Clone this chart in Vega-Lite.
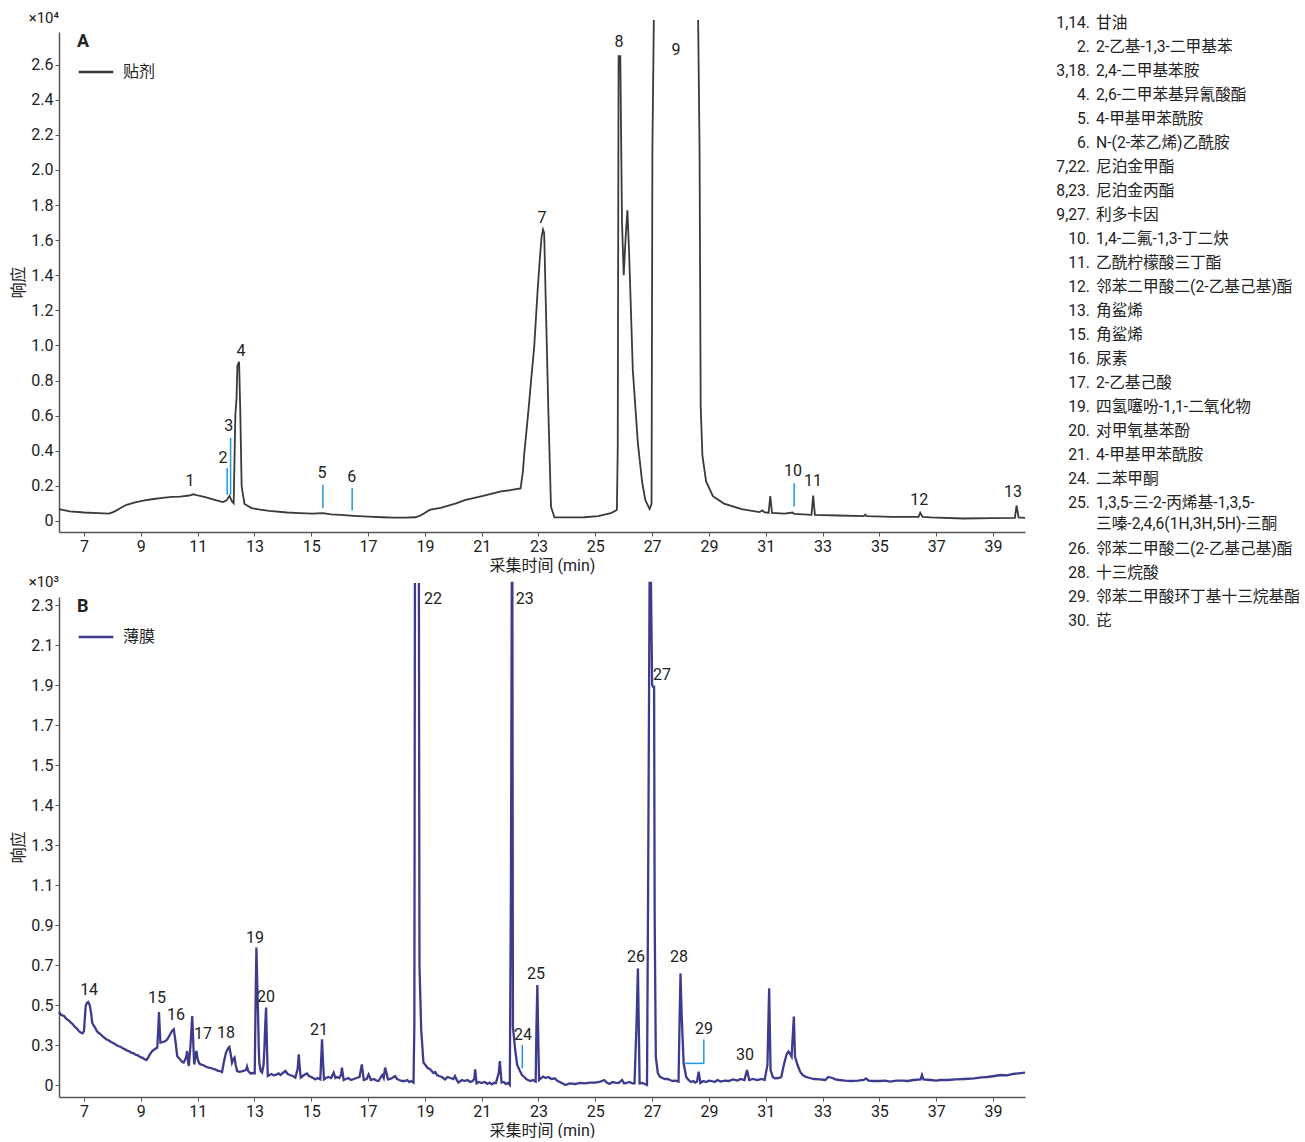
{
"$schema": "https://vega.github.io/schema/vega-lite/v6.json",
"padding": {"left": 10, "top": 11, "right": 0, "bottom": 0},
"background": "white",
"config": {
  "font": "Roboto, Noto Sans CJK SC, sans-serif",
  "view": {"stroke": null},
  "axis": {"grid": false, "domainColor": "#555", "domainWidth": 1.5, "tickColor": "#555", "tickSize": 4, "labelFontSize": 16, "labelColor": "#222", "titleFontSize": 16, "titleFontWeight": "normal", "titleColor": "#222", "labelOverlap": false},
  "legend": {"titleFontSize": 18, "titleFontWeight": "bold", "titleColor": "#222", "labelFontSize": 16, "labelColor": "#222", "symbolType": "stroke", "symbolSize": 1200, "symbolStrokeWidth": 2.5, "orient": "none", "legendX": 18, "legendY": 1, "titlePadding": 2, "labelOffset": 8},
  "title": {"fontSize": 15, "fontWeight": "normal", "color": "#222"}
},
"datasets": {
  "traceA": [
    {"t":6.12,"v":0.067},{"t":6.5,"v":0.055},{"t":7.0,"v":0.048},{"t":7.5,"v":0.044},{"t":7.88,"v":0.042},{"t":8.07,"v":0.053},{"t":8.3,"v":0.075},{"t":8.5,"v":0.092},{"t":8.8,"v":0.106},{"t":9.13,"v":0.117},{"t":9.45,"v":0.125},{"t":9.76,"v":0.132},{"t":10.1,"v":0.137},{"t":10.39,"v":0.139},{"t":10.7,"v":0.145},{"t":10.85,"v":0.152},{"t":11.0,"v":0.145},{"t":11.27,"v":0.136},{"t":11.6,"v":0.12},{"t":11.89,"v":0.107},{"t":12.02,"v":0.117},{"t":12.12,"v":0.143},{"t":12.21,"v":0.111},{"t":12.27,"v":0.101},{"t":12.31,"v":0.45},{"t":12.33,"v":0.607},{"t":12.37,"v":0.7},{"t":12.4,"v":0.884},{"t":12.46,"v":0.907},{"t":12.5,"v":0.636},{"t":12.55,"v":0.197},{"t":12.65,"v":0.097},{"t":12.9,"v":0.073},{"t":13.2,"v":0.064},{"t":13.52,"v":0.057},{"t":14.15,"v":0.048},{"t":14.6,"v":0.045},{"t":15.03,"v":0.042},{"t":15.41,"v":0.045},{"t":15.7,"v":0.038},{"t":16.03,"v":0.034},{"t":16.5,"v":0.029},{"t":17.01,"v":0.025},{"t":17.5,"v":0.021},{"t":17.92,"v":0.019},{"t":18.3,"v":0.019},{"t":18.67,"v":0.021},{"t":18.85,"v":0.032},{"t":18.98,"v":0.044},{"t":19.17,"v":0.063},{"t":19.3,"v":0.067},{"t":19.55,"v":0.075},{"t":19.8,"v":0.086},{"t":20.1,"v":0.1},{"t":20.43,"v":0.12},{"t":20.75,"v":0.132},{"t":21.05,"v":0.143},{"t":21.4,"v":0.157},{"t":21.68,"v":0.168},{"t":22.0,"v":0.175},{"t":22.37,"v":0.185},{"t":22.45,"v":0.28},{"t":22.5,"v":0.386},{"t":22.6,"v":0.55},{"t":22.68,"v":0.69},{"t":22.75,"v":0.82},{"t":22.85,"v":0.993},{"t":22.97,"v":1.316},{"t":23.05,"v":1.5},{"t":23.11,"v":1.62},{"t":23.16,"v":1.66},{"t":23.2,"v":1.64},{"t":23.26,"v":1.22},{"t":23.35,"v":0.61},{"t":23.44,"v":0.081},{"t":23.56,"v":0.021},{"t":24.0,"v":0.02},{"t":24.61,"v":0.021},{"t":25.1,"v":0.028},{"t":25.55,"v":0.044},{"t":25.76,"v":0.063},{"t":25.79,"v":0.42},{"t":25.82,"v":2.648},{"t":25.88,"v":2.648},{"t":25.94,"v":1.7},{"t":26.0,"v":1.4},{"t":26.07,"v":1.62},{"t":26.13,"v":1.77},{"t":26.19,"v":1.53},{"t":26.32,"v":0.86},{"t":26.5,"v":0.44},{"t":26.65,"v":0.22},{"t":26.76,"v":0.12},{"t":26.91,"v":0.068},{"t":26.98,"v":0.097},{"t":27.01,"v":2.12},{"t":27.06,"v":2.855},{"t":27.8,"v":null},{"t":28.62,"v":2.855},{"t":28.67,"v":2.12},{"t":28.71,"v":0.65},{"t":28.77,"v":0.373},{"t":28.9,"v":0.225},{"t":29.14,"v":0.141},{"t":29.53,"v":0.099},{"t":30.15,"v":0.067},{"t":30.78,"v":0.05},{"t":30.88,"v":0.06},{"t":30.95,"v":0.05},{"t":31.1,"v":0.046},{"t":31.16,"v":0.141},{"t":31.22,"v":0.046},{"t":31.66,"v":0.042},{"t":31.94,"v":0.048},{"t":32.0,"v":0.04},{"t":32.61,"v":0.035},{"t":32.67,"v":0.145},{"t":32.73,"v":0.035},{"t":33.55,"v":0.031},{"t":34.45,"v":0.028},{"t":34.5,"v":0.036},{"t":34.55,"v":0.027},{"t":35.44,"v":0.023},{"t":36.38,"v":0.023},{"t":36.44,"v":0.046},{"t":36.52,"v":0.023},{"t":36.8,"v":0.02},{"t":37.95,"v":0.014},{"t":39.0,"v":0.016},{"t":39.77,"v":0.018},{"t":39.83,"v":0.088},{"t":39.9,"v":0.02},{"t":40.13,"v":0.018}
  ],
  "traceB": [
    {"t":6.12,"v":0.365},{"t":6.2,"v":0.35},{"t":6.3,"v":0.345},{"t":6.38,"v":0.33},{"t":6.47,"v":0.322},{"t":6.55,"v":0.31},{"t":6.6,"v":0.305},{"t":6.68,"v":0.29},{"t":6.75,"v":0.282},{"t":6.82,"v":0.27},{"t":6.88,"v":0.262},{"t":6.95,"v":0.258},{"t":7.0,"v":0.27},{"t":7.06,"v":0.395},{"t":7.1,"v":0.41},{"t":7.15,"v":0.415},{"t":7.2,"v":0.4},{"t":7.25,"v":0.36},{"t":7.29,"v":0.31},{"t":7.35,"v":0.295},{"t":7.4,"v":0.285},{"t":7.45,"v":0.27},{"t":7.5,"v":0.262},{"t":7.57,"v":0.255},{"t":7.64,"v":0.245},{"t":7.72,"v":0.236},{"t":7.8,"v":0.228},{"t":7.88,"v":0.222},{"t":7.95,"v":0.215},{"t":8.03,"v":0.21},{"t":8.11,"v":0.203},{"t":8.2,"v":0.195},{"t":8.3,"v":0.19},{"t":8.38,"v":0.182},{"t":8.45,"v":0.178},{"t":8.52,"v":0.172},{"t":8.58,"v":0.17},{"t":8.66,"v":0.162},{"t":8.75,"v":0.158},{"t":8.83,"v":0.15},{"t":8.9,"v":0.148},{"t":8.97,"v":0.14},{"t":9.05,"v":0.137},{"t":9.12,"v":0.13},{"t":9.19,"v":0.125},{"t":9.25,"v":0.135},{"t":9.3,"v":0.15},{"t":9.4,"v":0.17},{"t":9.5,"v":0.18},{"t":9.58,"v":0.187},{"t":9.62,"v":0.3},{"t":9.64,"v":0.365},{"t":9.66,"v":0.3},{"t":9.69,"v":0.212},{"t":9.78,"v":0.215},{"t":9.87,"v":0.22},{"t":9.94,"v":0.23},{"t":10.0,"v":0.245},{"t":10.1,"v":0.27},{"t":10.16,"v":0.278},{"t":10.22,"v":0.22},{"t":10.28,"v":0.145},{"t":10.34,"v":0.135},{"t":10.4,"v":0.125},{"t":10.46,"v":0.115},{"t":10.51,"v":0.112},{"t":10.6,"v":0.14},{"t":10.63,"v":0.17},{"t":10.66,"v":0.12},{"t":10.69,"v":0.095},{"t":10.75,"v":0.2},{"t":10.81,"v":0.345},{"t":10.85,"v":0.2},{"t":10.88,"v":0.103},{"t":10.93,"v":0.15},{"t":10.96,"v":0.17},{"t":11.0,"v":0.13},{"t":11.05,"v":0.11},{"t":11.1,"v":0.103},{"t":11.18,"v":0.1},{"t":11.25,"v":0.095},{"t":11.32,"v":0.09},{"t":11.39,"v":0.087},{"t":11.47,"v":0.085},{"t":11.55,"v":0.08},{"t":11.62,"v":0.078},{"t":11.7,"v":0.072},{"t":11.78,"v":0.07},{"t":11.86,"v":0.065},{"t":11.93,"v":0.12},{"t":12.0,"v":0.162},{"t":12.08,"v":0.185},{"t":12.12,"v":0.19},{"t":12.17,"v":0.15},{"t":12.21,"v":0.112},{"t":12.26,"v":0.13},{"t":12.3,"v":0.137},{"t":12.34,"v":0.1},{"t":12.39,"v":0.07},{"t":12.47,"v":0.066},{"t":12.55,"v":0.068},{"t":12.62,"v":0.07},{"t":12.7,"v":0.075},{"t":12.74,"v":0.092},{"t":12.78,"v":0.07},{"t":12.86,"v":0.058},{"t":12.94,"v":0.06},{"t":13.01,"v":0.058},{"t":13.04,"v":0.4},{"t":13.07,"v":0.687},{"t":13.1,"v":0.5},{"t":13.13,"v":0.345},{"t":13.15,"v":0.2},{"t":13.17,"v":0.112},{"t":13.22,"v":0.07},{"t":13.27,"v":0.062},{"t":13.32,"v":0.1},{"t":13.35,"v":0.178},{"t":13.38,"v":0.3},{"t":13.41,"v":0.387},{"t":13.44,"v":0.2},{"t":13.47,"v":0.045},{"t":13.53,"v":0.05},{"t":13.6,"v":0.055},{"t":13.68,"v":0.048},{"t":13.75,"v":0.05},{"t":13.85,"v":0.058},{"t":13.92,"v":0.05},{"t":14.0,"v":0.06},{"t":14.09,"v":0.07},{"t":14.17,"v":0.055},{"t":14.25,"v":0.05},{"t":14.35,"v":0.045},{"t":14.44,"v":0.037},{"t":14.52,"v":0.08},{"t":14.56,"v":0.153},{"t":14.6,"v":0.08},{"t":14.63,"v":0.037},{"t":14.7,"v":0.045},{"t":14.75,"v":0.05},{"t":14.85,"v":0.058},{"t":14.92,"v":0.045},{"t":15.0,"v":0.04},{"t":15.07,"v":0.035},{"t":15.14,"v":0.028},{"t":15.22,"v":0.035},{"t":15.32,"v":0.028},{"t":15.35,"v":0.13},{"t":15.38,"v":0.228},{"t":15.41,"v":0.13},{"t":15.45,"v":0.028},{"t":15.52,"v":0.035},{"t":15.6,"v":0.04},{"t":15.7,"v":0.035},{"t":15.79,"v":0.062},{"t":15.85,"v":0.035},{"t":15.9,"v":0.04},{"t":15.98,"v":0.035},{"t":16.05,"v":0.05},{"t":16.08,"v":0.087},{"t":16.14,"v":0.025},{"t":16.22,"v":0.03},{"t":16.3,"v":0.035},{"t":16.4,"v":0.025},{"t":16.5,"v":0.03},{"t":16.6,"v":0.035},{"t":16.7,"v":0.04},{"t":16.78,"v":0.103},{"t":16.85,"v":0.025},{"t":16.95,"v":0.03},{"t":17.02,"v":0.053},{"t":17.1,"v":0.025},{"t":17.2,"v":0.03},{"t":17.3,"v":0.022},{"t":17.37,"v":0.02},{"t":17.45,"v":0.04},{"t":17.5,"v":0.05},{"t":17.55,"v":0.035},{"t":17.6,"v":0.087},{"t":17.65,"v":0.06},{"t":17.7,"v":0.028},{"t":17.78,"v":0.03},{"t":17.85,"v":0.035},{"t":17.95,"v":0.045},{"t":18.02,"v":0.03},{"t":18.1,"v":0.025},{"t":18.2,"v":0.02},{"t":18.3,"v":0.02},{"t":18.38,"v":0.025},{"t":18.45,"v":0.015},{"t":18.52,"v":0.02},{"t":18.6,"v":0.012},{"t":18.63,"v":0.3},{"t":18.65,"v":2.51},{"t":18.72,"v":null},{"t":18.79,"v":2.51},{"t":18.81,"v":0.6},{"t":18.87,"v":0.278},{"t":18.95,"v":0.112},{"t":19.02,"v":0.1},{"t":19.1,"v":0.085},{"t":19.17,"v":0.08},{"t":19.24,"v":0.07},{"t":19.3,"v":0.06},{"t":19.36,"v":0.065},{"t":19.43,"v":0.05},{"t":19.5,"v":0.045},{"t":19.6,"v":0.04},{"t":19.71,"v":0.028},{"t":19.8,"v":0.04},{"t":19.9,"v":0.035},{"t":20.0,"v":0.03},{"t":20.06,"v":0.045},{"t":20.12,"v":0.025},{"t":20.18,"v":0.012},{"t":20.3,"v":0.025},{"t":20.4,"v":0.02},{"t":20.5,"v":0.025},{"t":20.6,"v":0.015},{"t":20.68,"v":0.02},{"t":20.74,"v":0.03},{"t":20.77,"v":0.078},{"t":20.82,"v":0.008},{"t":20.9,"v":0.015},{"t":21.0,"v":0.01},{"t":21.1,"v":0.015},{"t":21.2,"v":0.006},{"t":21.28,"v":0.012},{"t":21.35,"v":0.003},{"t":21.42,"v":0.01},{"t":21.5,"v":0.01},{"t":21.6,"v":0.06},{"t":21.64,"v":0.12},{"t":21.7,"v":0.012},{"t":21.78,"v":0.015},{"t":21.85,"v":0.005},{"t":21.92,"v":0.01},{"t":21.99,"v":0.0},{"t":22.03,"v":1.0},{"t":22.06,"v":2.51},{"t":22.08,"v":2.51},{"t":22.1,"v":0.29},{"t":22.18,"v":0.175},{"t":22.25,"v":0.1},{"t":22.33,"v":0.075},{"t":22.42,"v":0.05},{"t":22.5,"v":0.04},{"t":22.57,"v":0.03},{"t":22.63,"v":0.025},{"t":22.72,"v":0.02},{"t":22.8,"v":0.025},{"t":22.9,"v":0.017},{"t":22.93,"v":0.3},{"t":22.96,"v":0.5},{"t":22.99,"v":0.25},{"t":23.02,"v":0.025},{"t":23.1,"v":0.035},{"t":23.17,"v":0.042},{"t":23.25,"v":0.035},{"t":23.35,"v":0.04},{"t":23.45,"v":0.03},{"t":23.58,"v":0.033},{"t":23.67,"v":0.02},{"t":23.75,"v":0.015},{"t":23.85,"v":0.008},{"t":23.94,"v":0.0},{"t":24.1,"v":0.008},{"t":24.3,"v":0.005},{"t":24.45,"v":0.01},{"t":24.65,"v":0.008},{"t":24.8,"v":0.012},{"t":25.0,"v":0.012},{"t":25.15,"v":0.015},{"t":25.31,"v":0.025},{"t":25.4,"v":0.012},{"t":25.5,"v":0.005},{"t":25.6,"v":0.015},{"t":25.7,"v":0.012},{"t":25.82,"v":0.01},{"t":25.94,"v":0.025},{"t":26.02,"v":0.008},{"t":26.1,"v":0.01},{"t":26.2,"v":0.015},{"t":26.3,"v":0.008},{"t":26.38,"v":0.008},{"t":26.45,"v":0.3},{"t":26.5,"v":0.583},{"t":26.53,"v":0.3},{"t":26.56,"v":0.008},{"t":26.65,"v":0.01},{"t":26.75,"v":0.005},{"t":26.82,"v":0.0},{"t":26.86,"v":1.0},{"t":26.91,"v":2.51},{"t":26.96,"v":2.51},{"t":27.0,"v":2.0},{"t":27.04,"v":1.99},{"t":27.07,"v":1.99},{"t":27.09,"v":0.84},{"t":27.13,"v":0.14},{"t":27.2,"v":0.06},{"t":27.27,"v":0.042},{"t":27.36,"v":0.035},{"t":27.45,"v":0.03},{"t":27.55,"v":0.03},{"t":27.63,"v":0.025},{"t":27.72,"v":0.02},{"t":27.82,"v":0.022},{"t":27.93,"v":0.017},{"t":27.97,"v":0.35},{"t":28.0,"v":0.558},{"t":28.04,"v":0.35},{"t":28.11,"v":0.108},{"t":28.2,"v":0.04},{"t":28.28,"v":0.025},{"t":28.37,"v":0.015},{"t":28.45,"v":0.02},{"t":28.52,"v":0.012},{"t":28.58,"v":0.017},{"t":28.64,"v":0.067},{"t":28.7,"v":0.01},{"t":28.8,"v":0.02},{"t":28.9,"v":0.015},{"t":29.0,"v":0.022},{"t":29.1,"v":0.02},{"t":29.2,"v":0.015},{"t":29.3,"v":0.025},{"t":29.41,"v":0.017},{"t":29.55,"v":0.022},{"t":29.7,"v":0.02},{"t":29.85,"v":0.028},{"t":30.0,"v":0.022},{"t":30.12,"v":0.03},{"t":30.25,"v":0.025},{"t":30.34,"v":0.075},{"t":30.42,"v":0.025},{"t":30.55,"v":0.03},{"t":30.7,"v":0.025},{"t":30.85,"v":0.03},{"t":30.96,"v":0.025},{"t":31.06,"v":0.1},{"t":31.12,"v":0.483},{"t":31.17,"v":0.075},{"t":31.25,"v":0.04},{"t":31.32,"v":0.033},{"t":31.45,"v":0.035},{"t":31.55,"v":0.04},{"t":31.62,"v":0.09},{"t":31.68,"v":0.125},{"t":31.74,"v":0.155},{"t":31.8,"v":0.167},{"t":31.86,"v":0.155},{"t":31.91,"v":0.142},{"t":31.99,"v":0.342},{"t":32.03,"v":0.142},{"t":32.12,"v":0.1},{"t":32.21,"v":0.067},{"t":32.3,"v":0.05},{"t":32.39,"v":0.042},{"t":32.55,"v":0.035},{"t":32.7,"v":0.03},{"t":32.9,"v":0.028},{"t":33.1,"v":0.025},{"t":33.2,"v":0.04},{"t":33.35,"v":0.035},{"t":33.45,"v":0.028},{"t":33.58,"v":0.025},{"t":33.8,"v":0.022},{"t":34.0,"v":0.02},{"t":34.25,"v":0.022},{"t":34.45,"v":0.025},{"t":34.53,"v":0.033},{"t":34.62,"v":0.022},{"t":34.8,"v":0.02},{"t":35.0,"v":0.02},{"t":35.2,"v":0.022},{"t":35.37,"v":0.017},{"t":35.6,"v":0.022},{"t":35.8,"v":0.022},{"t":36.0,"v":0.02},{"t":36.2,"v":0.025},{"t":36.45,"v":0.028},{"t":36.5,"v":0.05},{"t":36.55,"v":0.028},{"t":36.8,"v":0.025},{"t":37.0,"v":0.022},{"t":37.15,"v":0.025},{"t":37.4,"v":0.025},{"t":37.7,"v":0.028},{"t":38.0,"v":0.03},{"t":38.34,"v":0.033},{"t":38.6,"v":0.038},{"t":38.8,"v":0.04},{"t":39.05,"v":0.045},{"t":39.29,"v":0.05},{"t":39.5,"v":0.048},{"t":39.7,"v":0.055},{"t":39.9,"v":0.058},{"t":40.13,"v":0.062}
  ],
  "labelsA": [
    {"t":10.73,"v":0.228,"label":"1"},{"t":11.89,"v":0.359,"label":"2"},{"t":12.1,"v":0.541,"label":"3"},{"t":12.53,"v":0.969,"label":"4"},{"t":15.38,"v":0.274,"label":"5"},{"t":16.43,"v":0.251,"label":"6"},{"t":23.12,"v":1.726,"label":"7"},{"t":25.83,"v":2.729,"label":"8"},{"t":27.84,"v":2.684,"label":"9"},{"t":31.96,"v":0.285,"label":"10"},{"t":32.66,"v":0.228,"label":"11"},{"t":36.4,"v":0.12,"label":"12"},{"t":39.7,"v":0.165,"label":"13"}
  ],
  "labelsB": [
    {"t":7.18,"v":0.475,"label":"14"},{"t":9.57,"v":0.435,"label":"15"},{"t":10.24,"v":0.35,"label":"16"},{"t":11.19,"v":0.255,"label":"17"},{"t":12.0,"v":0.26,"label":"18"},{"t":13.02,"v":0.735,"label":"19"},{"t":13.41,"v":0.44,"label":"20"},{"t":15.27,"v":0.275,"label":"21"},{"t":19.29,"v":2.43,"label":"22"},{"t":22.52,"v":2.43,"label":"23"},{"t":22.45,"v":0.25,"label":"24"},{"t":22.91,"v":0.555,"label":"25"},{"t":26.43,"v":0.64,"label":"26"},{"t":27.35,"v":2.05,"label":"27"},{"t":27.95,"v":0.64,"label":"28"},{"t":28.83,"v":0.28,"label":"29"},{"t":30.27,"v":0.15,"label":"30"}
  ],
  "marksA": [
    {"t":12.04,"t2":12.04,"v1":0.149,"v2":0.302},{"t":12.16,"t2":12.16,"v1":0.149,"v2":0.474},{"t":15.41,"t2":15.41,"v1":0.073,"v2":0.206},{"t":16.44,"t2":16.44,"v1":0.059,"v2":0.187},{"t":32.0,"t2":32.0,"v1":0.082,"v2":0.215}
  ],
  "marksB": [
    {"t":22.43,"t2":22.43,"v1":0.083,"v2":0.2},{"t":28.82,"t2":28.82,"v1":0.108,"v2":0.228},{"t":28.16,"t2":28.82,"v1":0.108,"v2":0.108}
  ],
  "list": [
    {"row":0,"num":"1,14.","name":"甘油"},
    {"row":1,"num":"2.","name":"2-乙基-1,3-二甲基苯"},
    {"row":2,"num":"3,18.","name":"2,4-二甲基苯胺"},
    {"row":3,"num":"4.","name":"2,6-二甲苯基异氰酸酯"},
    {"row":4,"num":"5.","name":"4-甲基甲苯酰胺"},
    {"row":5,"num":"6.","name":"N-(2-苯乙烯)乙酰胺"},
    {"row":6,"num":"7,22.","name":"尼泊金甲酯"},
    {"row":7,"num":"8,23.","name":"尼泊金丙酯"},
    {"row":8,"num":"9,27.","name":"利多卡因"},
    {"row":9,"num":"10.","name":"1,4-二氟-1,3-丁二炔"},
    {"row":10,"num":"11.","name":"乙酰柠檬酸三丁酯"},
    {"row":11,"num":"12.","name":"邻苯二甲酸二(2-乙基己基)酯"},
    {"row":12,"num":"13.","name":"角鲨烯"},
    {"row":13,"num":"15.","name":"角鲨烯"},
    {"row":14,"num":"16.","name":"尿素"},
    {"row":15,"num":"17.","name":"2-乙基己酸"},
    {"row":16,"num":"19.","name":"四氢噻吩-1,1-二氧化物"},
    {"row":17,"num":"20.","name":"对甲氧基苯酚"},
    {"row":18,"num":"21.","name":"4-甲基甲苯酰胺"},
    {"row":19,"num":"24.","name":"二苯甲酮"},
    {"row":20,"num":"25.","name":["1,3,5-三-2-丙烯基-1,3,5-","三嗪-2,4,6(1H,3H,5H)-三酮"]},
    {"row":21.92,"num":"26.","name":"邻苯二甲酸二(2-乙基己基)酯"},
    {"row":22.92,"num":"28.","name":"十三烷酸"},
    {"row":23.92,"num":"29.","name":"邻苯二甲酸环丁基十三烷基酯"},
    {"row":24.92,"num":"30.","name":"芘"}
  ]
},
"hconcat": [
  {
    "vconcat": [
      {
        "width": 966, "height": 500,
        "title": {"text": "×10⁴", "anchor": "start", "align": "right", "frame": "group", "offset": -10},
        "layer": [
          {
            "data": {"name": "traceA"},
            "mark": {"type": "line", "strokeWidth": 1.8, "clip": false, "invalid": "break-paths-filter-domains"},
            "encoding": {
              "x": {"field": "t", "type": "quantitative", "scale": {"domain": [6.12, 40.127], "nice": false, "zero": false},
                    "axis": {"values": [7,9,11,13,15,17,19,21,23,25,27,29,31,33,35,37,39], "tickCount": 40, "title": "采集时间 (min)", "labelPadding": 2, "titlePadding": 3}},
              "y": {"field": "v", "type": "quantitative", "scale": {"domain": [-0.063, 2.786], "nice": false, "zero": false},
                    "axis": {"values": [0,0.2,0.4,0.6,0.8,1,1.2,1.4,1.6,1.8,2,2.2,2.4,2.6], "tickCount": 40, "labelExpr": "datum.value == 0 ? '0' : format(datum.value, '.1f')", "title": "响应", "titlePadding": 4, "labelPadding": 2}},
              "color": {"datum": "贴剂", "scale": {"range": ["#3a3a3a"]}, "legend": {"title": "A"}}
            }
          },
          {
            "data": {"name": "marksA"},
            "mark": {"type": "rule", "color": "#1e9bd7", "strokeWidth": 1.5},
            "encoding": {
              "x": {"field": "t", "type": "quantitative"}, "x2": {"field": "t2"},
              "y": {"field": "v1", "type": "quantitative"}, "y2": {"field": "v2"}
            }
          },
          {
            "data": {"name": "labelsA"},
            "mark": {"type": "text", "fontSize": 16, "color": "#222", "baseline": "middle"},
            "encoding": {
              "x": {"field": "t", "type": "quantitative"},
              "y": {"field": "v", "type": "quantitative"},
              "text": {"field": "label"}
            }
          }
        ]
      },
      {
        "width": 966, "height": 500,
        "title": {"text": "×10³", "anchor": "start", "align": "right", "frame": "group", "offset": -12},
        "layer": [
          {
            "data": {"name": "traceB"},
            "mark": {"type": "line", "strokeWidth": 2.3, "clip": false, "invalid": "break-paths-filter-domains"},
            "encoding": {
              "x": {"field": "t", "type": "quantitative", "scale": {"domain": [6.12, 40.127], "nice": false, "zero": false},
                    "axis": {"values": [7,9,11,13,15,17,19,21,23,25,27,29,31,33,35,37,39], "tickCount": 40, "title": "采集时间 (min)", "labelPadding": 2, "titlePadding": 3}},
              "y": {"field": "v", "type": "quantitative", "scale": {"domain": [-0.06, 2.44], "nice": false, "zero": false},
                    "axis": {"values": [0,0.2,0.4,0.6,0.8,1,1.2,1.4,1.6,1.8,2,2.2,2.4], "tickCount": 40, "labelExpr": "['0','0.3','0.5','0.7','0.9','1.1','1.3','1.4','1.5','1.7','1.9','2.1','2.3'][round(datum.value*5)]", "title": "响应", "titlePadding": 4, "labelPadding": 2}},
              "color": {"datum": "薄膜", "scale": {"range": ["#3d3b8e"]}, "legend": {"title": "B", "symbolStrokeColor": "#4f6db5"}}
            }
          },
          {
            "data": {"name": "marksB"},
            "mark": {"type": "rule", "color": "#1e9bd7", "strokeWidth": 1.5},
            "encoding": {
              "x": {"field": "t", "type": "quantitative"}, "x2": {"field": "t2"},
              "y": {"field": "v1", "type": "quantitative"}, "y2": {"field": "v2"}
            }
          },
          {
            "data": {"name": "labelsB"},
            "mark": {"type": "text", "fontSize": 16, "color": "#222", "baseline": "middle"},
            "encoding": {
              "x": {"field": "t", "type": "quantitative"},
              "y": {"field": "v", "type": "quantitative"},
              "text": {"field": "label"}
            }
          }
        ]
      }
    ],
    "spacing": 65,
    "bounds": "flush",
    "resolve": {"scale": {"color": "independent"}}
  },
  {
    "width": 250, "height": 600,
    "data": {"name": "list"},
    "layer": [
      {
        "mark": {"type": "text", "align": "right", "baseline": "alphabetic", "fontSize": 15.7, "color": "#222", "dx": -81},
        "encoding": {
          "y": {"field": "row", "type": "quantitative", "scale": {"domain": [0.1667, 25.1667], "reverse": true, "nice": false, "zero": false}, "axis": null},
          "text": {"field": "num"}
        }
      },
      {
        "mark": {"type": "text", "align": "left", "baseline": "alphabetic", "fontSize": 15.7, "color": "#222", "dx": -75, "lineHeight": 21},
        "encoding": {
          "y": {"field": "row", "type": "quantitative", "scale": {"domain": [0.1667, 25.1667], "reverse": true, "nice": false, "zero": false}, "axis": null},
          "text": {"field": "name"}
        }
      }
    ]
  }
],
"spacing": 16,
"resolve": {"scale": {"color": "independent"}}
}
